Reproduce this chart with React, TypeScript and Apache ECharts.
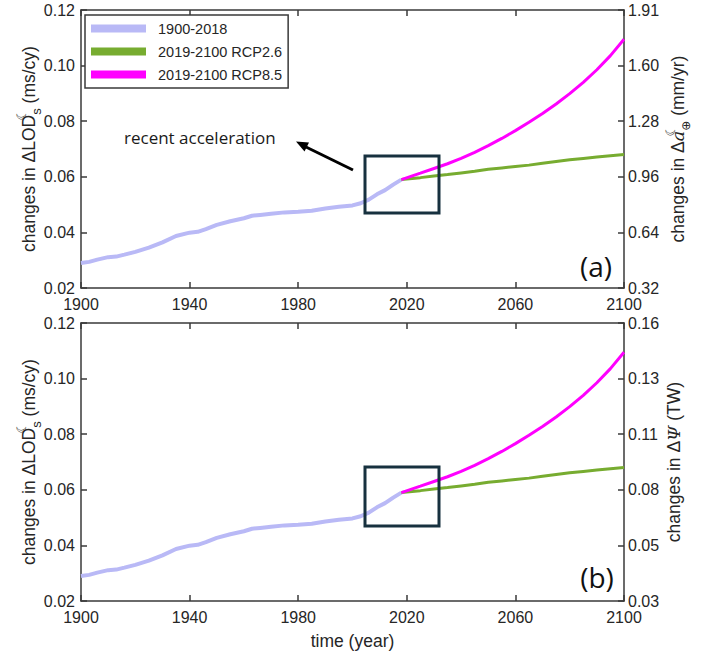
import React, { useEffect, useRef } from "react";
import * as echarts from "echarts";

const histYears = [1900, 1903, 1906, 1910, 1913, 1916, 1920, 1925, 1930, 1935, 1940, 1943, 1946, 1950, 1955, 1960, 1963, 1966, 1970, 1975, 1980, 1985, 1990, 1995, 2000, 2003, 2006, 2009, 2012, 2015, 2018];
const histValues = [0.029, 0.0294, 0.0302, 0.0311, 0.0313, 0.032, 0.033, 0.0345, 0.0364, 0.0387, 0.0399, 0.0402, 0.0412, 0.0427, 0.044, 0.0451, 0.046, 0.0463, 0.0467, 0.0472, 0.0474, 0.0478, 0.0486, 0.0492, 0.0497, 0.0505, 0.0518, 0.0537, 0.0552, 0.0572, 0.059];

const projYears = [2018, 2025, 2030, 2035, 2040, 2045, 2050, 2055, 2060, 2065, 2070, 2075, 2080, 2085, 2090, 2095, 2100];
const rcp26Values = [0.059, 0.0597, 0.0603, 0.0608, 0.0614, 0.062, 0.0627, 0.0632, 0.0637, 0.0642, 0.0649, 0.0655, 0.0661, 0.0666, 0.0671, 0.0676, 0.068];
const rcp85Values = [0.059, 0.0613, 0.063, 0.0647, 0.0666, 0.0688, 0.0712, 0.0738, 0.0766, 0.0796, 0.0828, 0.0862, 0.0899, 0.094, 0.0985, 0.1036, 0.1095];

const seriesNames = ["1900-2018", "2019-2100 RCP2.6", "2019-2100 RCP8.5"];
const seriesColors = ["#b9b9f6", "#77ac30", "#ff00ff"];

const rightTicksA = ["0.32", "0.64", "0.96", "1.28", "1.60", "1.91"];
const rightTicksB = ["0.03", "0.05", "0.08", "0.11", "0.13", "0.16"];

const FONT = "'Liberation Sans', Arial, Helvetica, sans-serif";
const AX = "#3a3a3a";
const TXT = "#262626";

function pairs(xs: number[], ys: number[]) {
  return xs.map((x, i) => [x, ys[i]]);
}

export default function App() {
  const ref = useRef<HTMLDivElement>(null);
  useEffect(() => {
    document.body.style.margin = "0";
    if (!ref.current) return;
    const chart = echarts.init(ref.current, null, { renderer: "svg" });

    const grids = [
      { left: 81, top: 10, width: 543, height: 278 },
      { left: 81, top: 323, width: 543, height: 278 },
    ];

    const axisLine = { show: true, lineStyle: { color: AX, width: 1.5 } };
    const tickIn = { show: true, inside: true, length: 6, lineStyle: { color: AX, width: 1.5 } };
    const lbl = { color: TXT, fontSize: 16, fontFamily: FONT };
    const NAME_FS = 17.5;

    const xAxes: any[] = [];
    const yAxes: any[] = [];
    [0, 1].forEach((g) => {
      xAxes.push({
        type: "value", gridIndex: g, min: 1900, max: 2100, interval: 40, position: "bottom",
        axisLine, axisTick: tickIn, splitLine: { show: false },
        axisLabel: { ...lbl, margin: 8, formatter: (v: number) => String(v) },
        name: g === 1 ? "time (year)" : "",
        nameLocation: "middle", nameGap: 31, nameMoveOverlap: false,
        nameTextStyle: { color: TXT, fontSize: NAME_FS, fontFamily: FONT },
      });
      xAxes.push({
        type: "value", gridIndex: g, min: 1900, max: 2100, interval: 40, position: "top",
        axisLine, axisTick: tickIn, splitLine: { show: false }, axisLabel: { show: false },
      });
      yAxes.push({
        type: "value", gridIndex: g, min: 0.02, max: 0.12, interval: 0.02, position: "left",
        axisLine, axisTick: tickIn, splitLine: { show: false },
        axisLabel: { ...lbl, margin: 6, formatter: (v: number) => v.toFixed(2) },
        name: "{t|changes in ΔLOD}{sup|☾}{sub|s}{t| (ms/cy)}",
        nameLocation: "middle", nameRotate: 90, nameGap: 38, nameMoveOverlap: false,
        nameTextStyle: {
          color: TXT, fontFamily: FONT,
          rich: {
            t: { fontSize: NAME_FS, lineHeight: 28, fontFamily: FONT, color: TXT },
            sup: { fontSize: 13, lineHeight: 13, verticalAlign: "top", width: 0, fontFamily: "DejaVu Sans", color: TXT },
            sub: { fontSize: 13, lineHeight: 13, verticalAlign: "bottom", fontFamily: FONT, color: TXT },
          },
        },
      });
      const labels = g === 0 ? rightTicksA : rightTicksB;
      yAxes.push({
        type: "value", gridIndex: g, min: 0, max: 5, interval: 1, position: "right",
        axisLine, axisTick: tickIn, splitLine: { show: false },
        axisLabel: { ...lbl, margin: 4, formatter: (v: number, i: number) => labels[i] ?? "" },
        name: g === 0
          ? "{t|changes in Δ}{it|a}{sup|☾}{sub|⊕}{t| (mm/yr)}"
          : "{t|changes in Δ}{it|Ψ}{t| (TW)}",
        nameLocation: "middle", nameRotate: 90, nameGap: g === 0 ? 40 : 36, nameMoveOverlap: false,
        nameTextStyle: {
          color: TXT, fontFamily: FONT,
          rich: {
            t: { fontSize: NAME_FS, lineHeight: 28, fontFamily: FONT, color: TXT },
            it: { fontSize: NAME_FS, lineHeight: 28, fontStyle: "italic", fontFamily: "DejaVu Serif", color: TXT },
            sup: { fontSize: 13, lineHeight: 13, verticalAlign: "top", width: 0, fontFamily: "DejaVu Sans", color: TXT },
            sub: { fontSize: 12, lineHeight: 12, verticalAlign: "bottom", fontFamily: "DejaVu Sans", color: TXT },
          },
        },
      });
    });

    const series: any[] = [];
    [0, 1].forEach((g) => {
      const datasets = [pairs(histYears, histValues), pairs(projYears, rcp26Values), pairs(projYears, rcp85Values)];
      datasets.forEach((d, k) => {
        series.push({
          type: "line", name: seriesNames[k], xAxisIndex: g * 2, yAxisIndex: g * 2,
          data: d, showSymbol: false, symbol: "none", smooth: false,
          lineStyle: { color: seriesColors[k], width: k === 0 ? 4 : 3 },
          itemStyle: { color: seriesColors[k] },
          z: 2 + k,
        });
      });
    });

    const option: any = {
      animation: false,
      backgroundColor: "#ffffff",
      grid: grids,
      xAxis: xAxes,
      yAxis: yAxes,
      legend: {
        data: seriesNames, orient: "vertical", left: 85, top: 15,
        icon: "rect", itemWidth: 55, itemHeight: 8, itemGap: 6,
        padding: [5, 6, 5, 6],
        borderColor: AX, borderWidth: 1.5, backgroundColor: "#ffffff",
        textStyle: { color: TXT, fontSize: 14.5, fontFamily: FONT, lineHeight: 17, padding: [0, 0, 0, 7] },
        selectedMode: false,
      },
      series,
      graphic: [
        { type: "text", left: 124, top: 129, style: { text: "recent acceleration", fontSize: 17, fontFamily: "'Open Sans', sans-serif", fill: "#1a1a1a" } },
        { type: "line", shape: { x1: 353, y1: 170, x2: 306, y2: 147 }, style: { stroke: "#000", lineWidth: 3 } },
        { type: "polygon", shape: { points: [[296, 141.5], [304.5, 151.4], [309, 142.4]] }, style: { fill: "#000" } },
        { type: "rect", shape: { x: 365, y: 156, width: 74, height: 57 }, style: { fill: "none", stroke: "#17313f", lineWidth: 3 }, z: 10 },
        { type: "rect", shape: { x: 365, y: 467, width: 74, height: 59 }, style: { fill: "none", stroke: "#17313f", lineWidth: 3 }, z: 10 },
        { type: "text", x: 596, y: 266, style: { text: "(a)", fontSize: 28, fontFamily: "'Open Sans', sans-serif", fill: "#111", align: "center", verticalAlign: "middle" } },
        { type: "text", x: 597, y: 577, style: { text: "(b)", fontSize: 28, fontFamily: "'Open Sans', sans-serif", fill: "#111", align: "center", verticalAlign: "middle" } },
      ],
    };
    chart.setOption(option);
    return () => chart.dispose();
  }, []);
  return <div ref={ref} style={{ width: 708, height: 655 }} />;
}
